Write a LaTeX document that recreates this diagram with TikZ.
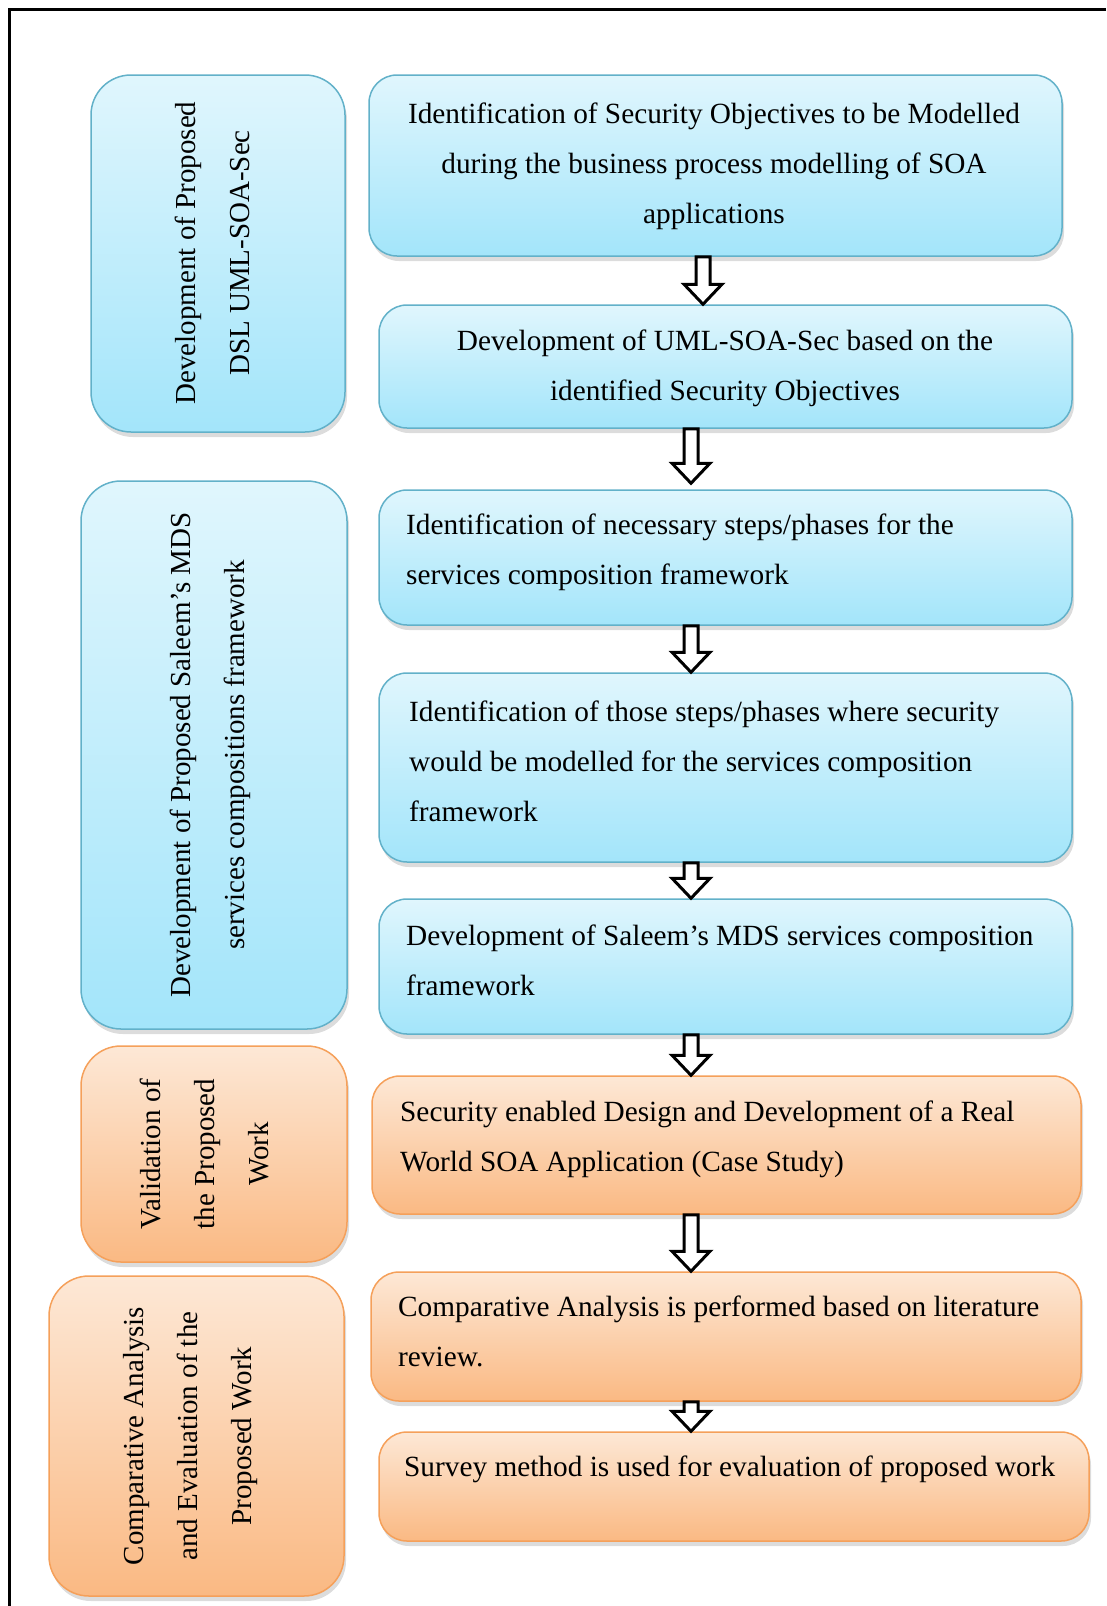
\documentclass[tikz,border=0pt]{standalone}
\usepackage{fontspec}
\setmainfont{Liberation Serif}
\usetikzlibrary{calc,shadows}

\definecolor{bluetop}{HTML}{E0F6FD}
\definecolor{bluebot}{HTML}{A3E5FA}
\definecolor{blueline}{HTML}{62B1C9}
\definecolor{orgtop}{HTML}{FDE8D6}
\definecolor{orgbot}{HTML}{FAB983}
\definecolor{orgline}{HTML}{F5A05A}

\begin{document}
\begin{tikzpicture}[x=1pt,y=-1pt,
  boxbase/.style={line width=1.5pt, inner sep=0pt,
    drop shadow={shadow xshift=2pt,shadow yshift=-5pt,opacity=0.28}},
  bluebox/.style={boxbase, draw=blueline, top color=bluetop, bottom color=bluebot, rounded corners=28pt},
  orgbox/.style={boxbase, draw=orgline, top color=orgtop, bottom color=orgbot, rounded corners=28pt},
  bluephase/.style={bluebox, rounded corners=40pt},
  orgphase/.style={orgbox, rounded corners=40pt},
  steptext/.style={inner sep=0pt, text width=680pt, font=\fontsize{29.3}{50}\selectfont},
  phasetext/.style={inner sep=0pt, rotate=90, align=center, font=\fontsize{29}{54}\selectfont},
  blockarrow/.style={draw=black, line width=3pt, fill=white, line join=miter,
    to path={let \p1=(\tikztostart), \p2=(\tikztotarget) in
      (\x1-7pt,\y1) -- (\x1+7pt,\y1) -- (\x1+7pt,\y2+20pt) -- (\x1+19pt,\y2+20pt)
      -- (\x1,\y2) -- (\x1-19pt,\y2+20pt) -- (\x1-7pt,\y2+20pt) -- cycle}}
]
\useasboundingbox (0,0) rectangle (1106,1606);

% frame
\draw[line width=3pt] (1106,9) -- (9,9) -- (9,1606);

% phase boxes on the left
\node[bluephase, minimum width=254pt, minimum height=357pt] (l1) at (218,253.5) {};
\node[bluephase, minimum width=266pt, minimum height=548pt] (l2) at (214,755) {};
\node[orgphase, minimum width=266pt, minimum height=216pt] (l3) at (214,1154) {};
\node[orgphase, minimum width=295pt, minimum height=320pt] (l4) at (196.5,1436) {};

\node[phasetext] (lt1) at (212,253) {Development of Proposed\\DSL UML-SOA-Sec};
\node[phasetext] (lt2) at (210,755) {Development of Proposed Saleem’s MDS\\services compositions framework};
\node[phasetext] (lt3) at (205,1154) {Validation of\\the Proposed\\Work};
\node[phasetext] (lt4) at (191,1436) {Comparative Analysis\\and Evaluation of the\\Proposed Work};

% step boxes on the right
\node[bluebox, minimum width=693pt, minimum height=181pt] (b1) at (715.5,165.5) {};
\node[bluebox, minimum width=693pt, minimum height=123pt] (b2) at (725.5,366.5) {};
\node[bluebox, minimum width=693pt, minimum height=135pt] (b3) at (725.5,557.5) {};
\node[bluebox, minimum width=693pt, minimum height=189pt] (b4) at (725.5,767.5) {};
\node[bluebox, minimum width=693pt, minimum height=135pt] (b5) at (725.5,966.5) {};
\node[orgbox, minimum width=709pt, minimum height=138pt] (b6) at (726.5,1145) {};
\node[orgbox, minimum width=710pt, minimum height=129pt] (b7) at (726,1336.5) {};
\node[orgbox, minimum width=710pt, minimum height=109pt] (b8) at (734,1486.5) {};

\node[steptext, align=flush center, anchor=base] (t1) at (714,123)
  {Identification of Security Objectives to be Modelled\\during the business process modelling of SOA\\applications};
\node[steptext, align=flush center, anchor=base] (t2) at (725,350)
  {Development of UML-SOA-Sec based on the\\identified Security Objectives};
\node[steptext, align=flush left, anchor=base west] (t3) at (406,534)
  {Identification of necessary steps/phases for the\\services composition framework};
\node[steptext, align=flush left, anchor=base west] (t4) at (409,721)
  {Identification of those steps/phases where security\\would be modelled for the services composition\\framework};
\node[steptext, align=flush left, anchor=base west] (t5) at (406,945)
  {Development of Saleem’s MDS services composition\\framework};
\node[steptext, align=flush left, anchor=base west] (t6) at (400,1121)
  {Security enabled Design and Development of a Real\\World SOA Application (Case Study)};
\node[steptext, align=flush left, anchor=base west] (t7) at (398,1316)
  {Comparative Analysis is performed based on literature\\review.};
\node[steptext, align=flush left, anchor=base west] (t8) at (404,1476)
  {Survey method is used for evaluation of proposed work};

% hollow block arrows between the steps
\coordinate (ax1) at (703,0);
\coordinate (ax) at (691,0);
\draw[blockarrow] (b1.south -| ax1) to (b2.north -| ax1);
\draw[blockarrow] (b2.south -| ax) to ([yshift=6pt]b3.north -| ax);
\draw[blockarrow] (b3.south -| ax) to (b4.north -| ax);
\draw[blockarrow] (b4.south -| ax) to (b5.north -| ax);
\draw[blockarrow] (b5.south -| ax) to (b6.north -| ax);
\draw[blockarrow] (b6.south -| ax) to (b7.north -| ax);
\draw[blockarrow] (b7.south -| ax) to (b8.north -| ax);
\end{tikzpicture}
\end{document}
